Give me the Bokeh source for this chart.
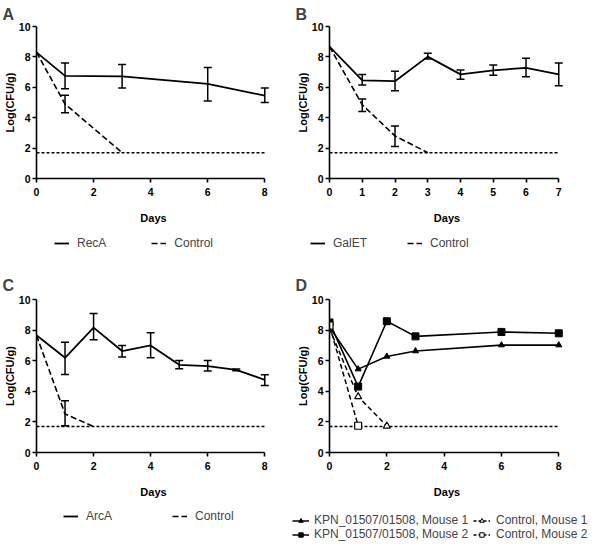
from bokeh.plotting import figure
from bokeh.layouts import column, row
from bokeh.models import (ColumnDataSource, Whisker, TeeHead, Legend, LegendItem,
                          Range1d, FixedTicker)
from bokeh.embed import file_html
from bokeh.resources import INLINE

FONT = "Liberation Sans"
LOD = 1.7
Y_TICKS = [0, 2, 4, 6, 8, 10]
NAN = float("nan")

# ---------------- Panel A ----------------
a_days = [0, 1, 3, 6, 8]
a_reca = [8.3, 6.75, 6.72, 6.22, 5.45]
a_reca_err_days = [1, 3, 6, 8]
a_reca_lo = [5.9, 5.95, 5.1, 5.0]
a_reca_hi = [7.6, 7.5, 7.3, 5.95]
a_ctrl_days = [0, 1, 3]
a_ctrl = [8.3, 4.9, 1.7]
a_ctrl_err_days = [1]
a_ctrl_lo = [4.33]
a_ctrl_hi = [5.47]
a_xticks = [0, 2, 4, 6, 8]

# ---------------- Panel B ----------------
b_days = [0, 1, 2, 3, 4, 5, 6, 7]
b_galet = [8.68, 6.45, 6.4, 8.02, 6.85, 7.12, 7.28, 6.85]
b_galet_err_days = [1, 2, 3, 4, 5, 6, 7]
b_galet_lo = [6.15, 5.78, 7.87, 6.53, 6.79, 6.70, 6.11]
b_galet_hi = [6.84, 7.05, 8.24, 7.14, 7.47, 7.91, 7.60]
b_ctrl_days = [0, 1, 2, 3]
b_ctrl = [8.68, 4.85, 2.8, 1.7]
b_ctrl_err_days = [1, 2]
b_ctrl_lo = [4.40, 2.11]
b_ctrl_hi = [5.23, 3.45]
b_xticks = [0, 1, 2, 3, 4, 5, 6, 7]

# ---------------- Panel C ----------------
c_days = [0, 1, 2, 3, 4, 5, 6, 7, 8]
c_arca = [7.66, 6.19, 8.16, 6.63, 7.0, 5.73, 5.65, 5.4, 4.75]
c_arca_err_days = [1, 2, 3, 4, 5, 6, 7, 8]
c_arca_lo = [5.1, 7.37, 6.24, 6.19, 5.47, 5.32, 5.35, 4.38]
c_arca_hi = [7.2, 9.08, 7.0, 7.83, 6.02, 6.02, 5.45, 5.08]
c_ctrl_days = [0, 1, 2]
c_ctrl = [7.66, 2.52, 1.7]
c_ctrl_err_days = [1]
c_ctrl_lo = [1.75]
c_ctrl_hi = [3.39]
c_xticks = [0, 2, 4, 6, 8]

# ---------------- Panel D ----------------
d_days = [0, 1, 2, 3, 6, 8]
d_kpn_m1 = [8.2, 5.45, 6.28, 6.63, 7.02, 7.02]
d_kpn_m2 = [8.5, 4.31, 8.58, 7.59, 7.88, 7.79]
d_ctrl_m1_days = [0, 1, 2]
d_ctrl_m1 = [8.1, 3.65, 1.73]
d_ctrl_m2_days = [0, 1]
d_ctrl_m2 = [8.3, 1.75]
d_xticks = [0, 2, 4, 6, 8]

SOLID = dict(line_color="black", line_width=1.8)
DASHED = dict(line_color="black", line_width=1.6, line_dash="6 3")


def make_fig(letter, xmax, xticks, width, height, left, unit_px, top, frame_h, title_gap):
    pad = xmax * 0.025
    frame_w = round(unit_px * (xmax + pad))
    p = figure(width=width, height=height, x_range=Range1d(0, xmax + pad),
               y_range=Range1d(0, 10), output_backend="svg",
               toolbar_location=None, title=letter,
               min_border_left=left, min_border_right=width - left - frame_w,
               min_border_top=top, min_border_bottom=height - top - frame_h)
    p.title.text_font = FONT
    p.title.text_font_style = "bold"
    p.title.text_font_size = "16px"
    p.title.align = "left"
    p.title.vertical_align = "top"
    p.title.offset = -34
    p.title.standoff = title_gap
    p.xgrid.visible = False
    p.ygrid.visible = False
    p.outline_line_color = None
    p.xaxis.ticker = FixedTicker(ticks=xticks)
    p.xaxis.bounds = (0, xmax)
    p.yaxis.ticker = FixedTicker(ticks=Y_TICKS)
    for ax in (p.xaxis, p.yaxis):
        ax.axis_line_color = "black"
        ax.axis_line_width = 1.6
        ax.major_tick_line_color = "black"
        ax.major_tick_line_width = 1.6
        ax.major_tick_out = 4
        ax.major_tick_in = 0
        ax.minor_tick_line_color = None
        ax.major_label_text_font = FONT
        ax.major_label_text_font_style = "bold"
        ax.major_label_text_font_size = "10.5px"
        ax.major_label_text_color = "black"
        ax.axis_label_text_font = FONT
        ax.axis_label_text_font_style = "bold"
        ax.axis_label_text_font_size = "11px"
        ax.axis_label_text_color = "black"
    p.xaxis.axis_label = "Days"
    p.xaxis.major_label_standoff = 5
    p.xaxis.axis_label_standoff = 13
    p.yaxis.axis_label = "Log(CFU/g)"
    p.yaxis.major_label_standoff = 2
    p.yaxis.axis_label_standoff = 0
    return p


def lod_line(p, xmax):
    p.line(x=[0, xmax], y=[LOD, LOD], line_color="black", line_width=1.5,
           line_dash="3 2")


def errbars(p, xs, lo, hi):
    src = ColumnDataSource(dict(x=xs, lo=lo, hi=hi))
    w = Whisker(base="x", lower="lo", upper="hi", source=src, dimension="height",
                line_color="black", line_width=1.5,
                upper_head=TeeHead(size=8, line_color="black", line_width=1.5),
                lower_head=TeeHead(size=8, line_color="black", line_width=1.5))
    p.add_layout(w)


def two_series_panel(p, days, mean, edays, lo, hi, cdays, cmean, cedays, clo, chi, xmax):
    lod_line(p, xmax)
    p.line(days, mean, **SOLID)
    p.line(cdays, cmean, **DASHED)
    errbars(p, edays, lo, hi)
    errbars(p, cedays, clo, chi)


def legend_fig(height):
    f = figure(width=600, height=height, x_range=Range1d(0, 1), y_range=Range1d(0, 1),
               output_backend="svg", toolbar_location=None,
               x_axis_location=None, y_axis_location=None,
               min_border=0, min_border_left=0, min_border_right=0,
               min_border_top=0, min_border_bottom=0)
    f.xgrid.visible = False
    f.ygrid.visible = False
    f.outline_line_color = None
    return f


def proxy_line(f, **kw):
    # legend-only key: a single undefined point, so nothing is drawn in the plot area
    return f.line(x=[NAN], y=[NAN], **kw)


def proxy_marker(f, **kw):
    return f.scatter(x=[NAN], y=[NAN], **kw)


def add_legend(f, items, loc, spacing, standoff, glyph_width=15, glyph_height=12,
               label_height=12, **kw):
    lg = Legend(items=items, location=loc, spacing=spacing, glyph_width=glyph_width,
                glyph_height=glyph_height, label_standoff=standoff, label_text_font=FONT,
                label_text_font_size="12px", label_height=label_height, padding=0,
                margin=0, border_line_color=None, background_fill_alpha=0, **kw)
    f.add_layout(lg)


# Panel A / B
pA = make_fig("A", 8, a_xticks, 293, 230, 36, 28.5, 26, 152, 4)
two_series_panel(pA, a_days, a_reca, a_reca_err_days, a_reca_lo, a_reca_hi,
                 a_ctrl_days, a_ctrl, a_ctrl_err_days, a_ctrl_lo, a_ctrl_hi, 8)
pB = make_fig("B", 7, b_xticks, 307, 230, 36, 32.7, 26, 152, 4)
two_series_panel(pB, b_days, b_galet, b_galet_err_days, b_galet_lo, b_galet_hi,
                 b_ctrl_days, b_ctrl, b_ctrl_err_days, b_ctrl_lo, b_ctrl_hi, 7)

# Legends row 1
L1 = legend_fig(40)
l_sol = proxy_line(L1, **SOLID)
l_das = proxy_line(L1, **DASHED)
add_legend(L1, [LegendItem(label="RecA", renderers=[l_sol]),
                LegendItem(label="Control", renderers=[l_das])],
           (54, 20), 45, 8, orientation="horizontal")
add_legend(L1, [LegendItem(label="GalET", renderers=[l_sol]),
                LegendItem(label="Control", renderers=[l_das])],
           (310, 20), 40, 8, orientation="horizontal")

# Panel C / D
pC = make_fig("C", 8, c_xticks, 293, 230, 36, 28.5, 29, 153, 8)
two_series_panel(pC, c_days, c_arca, c_arca_err_days, c_arca_lo, c_arca_hi,
                 c_ctrl_days, c_ctrl, c_ctrl_err_days, c_ctrl_lo, c_ctrl_hi, 8)

pD = make_fig("D", 8, d_xticks, 307, 230, 36, 28.6, 29, 153, 8)
lod_line(pD, 8)
pD.line(d_days, d_kpn_m1, line_color="black", line_width=1.6)
pD.scatter(d_days, d_kpn_m1, marker="triangle", size=6, color="black")
pD.line(d_days, d_kpn_m2, line_color="black", line_width=1.6)
pD.scatter(d_days, d_kpn_m2, marker="square", size=7, color="black")
pD.line(d_ctrl_m1_days, d_ctrl_m1, line_color="black", line_width=1.5, line_dash="5 3")
pD.scatter(d_ctrl_m1_days, d_ctrl_m1, marker="triangle", size=7,
           line_color="black", fill_color="white", line_width=1.2)
pD.line(d_ctrl_m2_days, d_ctrl_m2, line_color="black", line_width=1.5, line_dash="5 3")
pD.scatter(d_ctrl_m2_days, d_ctrl_m2, marker="square", size=7,
           line_color="black", fill_color="white", line_width=1.2)

# Legends row 2
L2 = legend_fig(44)
m_sol = proxy_line(L2, **SOLID)
m_das = proxy_line(L2, **DASHED)
add_legend(L2, [LegendItem(label="ArcA", renderers=[m_sol]),
                LegendItem(label="Control", renderers=[m_das])],
           (63, 21), 60, 8, orientation="horizontal")

k1l = proxy_line(L2, line_color="black", line_width=1.5)
k1m = proxy_marker(L2, marker="triangle", size=6, color="black")
k2l = proxy_line(L2, line_color="black", line_width=1.5)
k2m = proxy_marker(L2, marker="square", size=6, color="black")
c1l = proxy_line(L2, line_color="black", line_width=1.3, line_dash="3 2")
c1m = proxy_marker(L2, marker="triangle", size=6, line_color="black", fill_color="white")
c2l = proxy_line(L2, line_color="black", line_width=1.3, line_dash="3 2")
c2m = proxy_marker(L2, marker="square", size=6, line_color="black", fill_color="white")
add_legend(L2, [LegendItem(label="KPN_01507/01508, Mouse 1", renderers=[k1l, k1m]),
                LegendItem(label="KPN_01507/01508, Mouse 2", renderers=[k2l, k2m])],
           (292, 3), 0, 5, glyph_width=17, glyph_height=11, label_height=11,
           orientation="vertical")
add_legend(L2, [LegendItem(label="Control, Mouse 1", renderers=[c1l, c1m]),
                LegendItem(label="Control, Mouse 2", renderers=[c2l, c2m])],
           (473, 3), 0, 6, glyph_width=17, glyph_height=11, label_height=11,
           orientation="vertical")

layout = column(row(pA, pB), L1, row(pC, pD), L2)

open("out.html", "w").write(file_html(layout, INLINE))
